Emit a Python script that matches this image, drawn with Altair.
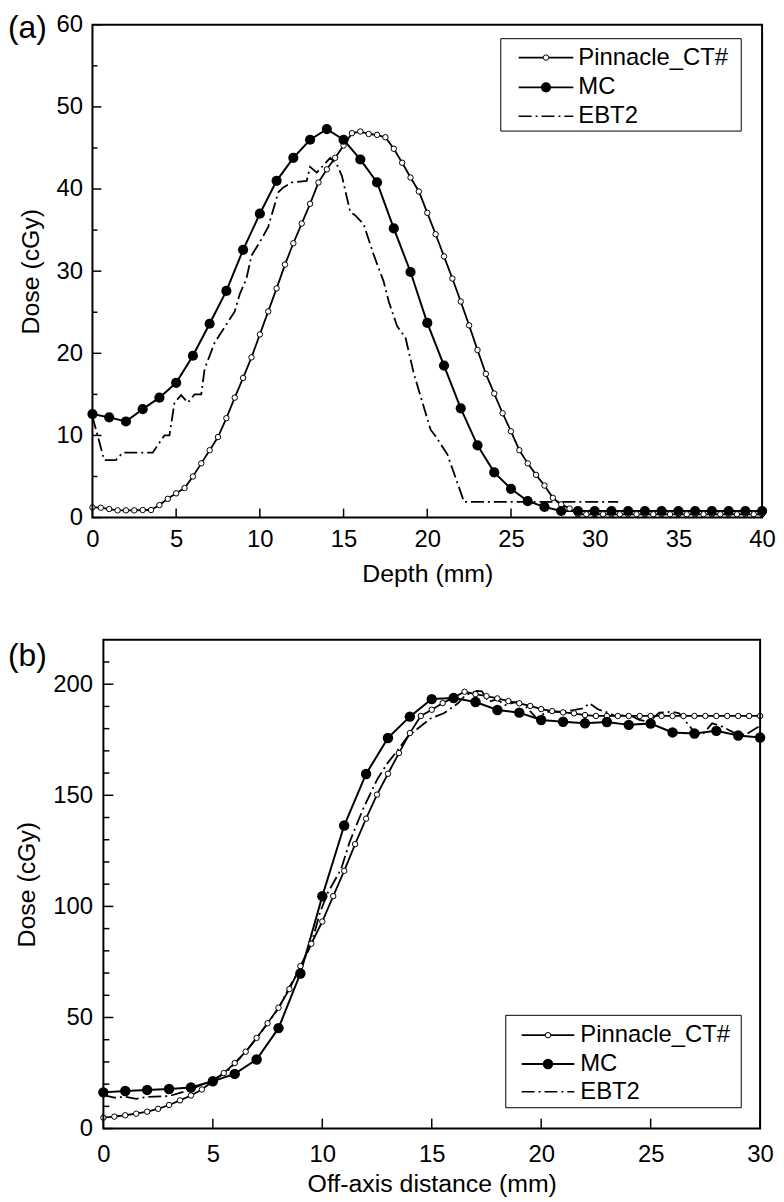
import altair as alt
import pandas as pd

FONT = "Liberation Sans"
SERIES = ["Pinnacle_CT#", "MC", "EBT2"]

# ---------------- panel (a): depth dose ----------------
A_PIN_X = [i * 0.5 for i in range(81)]
A_PIN_Y = [1.24, 1.2, 1.04, 0.88, 0.88, 0.88, 0.92, 0.92, 1.52, 2.28,
           2.95, 3.6, 5.0, 6.6, 8.2, 9.8, 12.1, 14.6, 17.0, 19.5,
           22.3, 25.1, 27.9, 30.8, 33.4, 35.8, 38.2, 40.8, 42.4, 43.8,
           45.3, 46.8, 47.0, 46.7, 46.6, 46.3, 44.9, 43.2, 41.4, 39.7,
           37.1, 34.5, 31.8, 29.1, 26.3, 23.4, 20.4, 17.5, 15.1, 12.7,
           10.5, 8.2, 6.6, 5.2, 3.9, 2.4, 1.6, 1.1, 0.4, 0.4,
           0.4, 0.4, 0.4, 0.4, 0.4, 0.4, 0.4, 0.4, 0.4, 0.4,
           0.4, 0.4, 0.4, 0.4, 0.4, 0.4, 0.4, 0.4, 0.4, 0.4, 0.4]
A_MC_X = list(range(41))
A_MC_Y = [12.6, 12.2, 11.7, 13.2, 14.6, 16.4, 19.7, 23.6, 27.6, 32.6,
          37.0, 41.0, 43.8, 46.0, 47.3, 46.0, 43.6, 40.8, 35.2, 29.9,
          23.7, 18.5, 13.3, 8.8, 5.5, 3.5, 2.0, 1.3, 0.8, 0.8,
          0.8, 0.8, 0.8, 0.8, 0.8, 0.8, 0.8, 0.8, 0.8, 0.8, 0.8]
A_EBT_X = [0, 0.7, 1.4, 1.8, 3.6, 4.3, 4.6, 4.9, 5.3, 5.7, 6.1, 6.5, 6.7, 7.3,
           8.5, 8.8, 9.2, 9.5, 10.1, 10.5, 11.1, 11.4, 11.9, 12.8, 13.0, 13.4,
           14.2, 14.6, 14.9, 15.4, 15.7, 16.2, 16.8, 17.4, 17.7, 18.2, 18.7,
           19.2, 20.2, 20.5, 21.2, 22.2, 31.4]
A_EBT_Y = [12.3, 7.0, 7.0, 7.9, 7.9, 10.0, 10.0, 14.0, 14.9, 14.0, 15.0, 15.0,
           18.1, 21.3, 25.1, 27.2, 29.1, 31.9, 33.9, 35.4, 39.6, 40.2, 40.8,
           41.0, 42.7, 42.0, 43.8, 43.0, 41.6, 37.2, 36.8, 35.7, 32.0, 28.7,
           26.3, 23.3, 21.9, 17.5, 10.7, 9.9, 7.7, 1.9, 1.9]

A_X_TICKS = [0, 5, 10, 15, 20, 25, 30, 35, 40]
A_Y_TICKS = [0, 10, 20, 30, 40, 50, 60]
A_Y_MINOR = [5, 15, 25, 35, 45, 55]

# ---------------- panel (b): off-axis profile ----------------
B_PIN_X = [i * 0.5 for i in range(61)]
B_PIN_Y = [4.9, 5.4, 6.0, 6.7, 7.6, 8.9, 10.6, 12.7, 14.9, 17.6,
           21.3, 25.0, 29.5, 34.6, 40.8, 47.4, 54.4, 62.8, 73.1, 83.2,
           93.2, 104.6, 116.0, 128.0, 139.5, 150.3, 159.7, 169.0, 178.0, 185.7,
           188.5, 191.5, 194.0, 196.6, 195.5, 194.6, 193.6, 192.4, 191.4, 190.2,
           188.8, 187.9, 187.3, 186.9, 186.1, 185.7, 185.7, 185.7, 185.7, 185.7,
           185.7, 185.7, 185.7, 185.7, 185.7, 185.7, 185.7, 185.7, 185.7, 185.7, 185.7]
B_MC_X = list(range(31))
B_MC_Y = [16.3, 16.9, 17.4, 17.8, 18.5, 21.3, 24.6, 31.1, 45.2, 69.8,
          104.6, 136.4, 159.6, 175.8, 185.4, 193.3, 193.8, 192.0, 188.4, 187.2,
          183.9, 183.1, 182.4, 183.0, 181.7, 182.3, 178.3, 177.8, 179.0, 176.9, 176.0]
B_EBT_X = [0, 0.5, 1, 1.5, 2, 3, 3.5, 4, 5, 5.6, 6.5, 7, 8, 8.5, 9, 9.5, 9.9,
           10.26, 10.86, 11.24, 11.85, 12.5, 12.98, 13.4, 13.9, 14.95, 15.55,
           16.2, 16.54, 17.07, 17.29, 17.6, 17.98, 18.35, 18.88, 19.34, 19.79,
           20.25, 21.0, 21.53, 21.91, 22.21, 22.59, 23.12, 23.42, 23.95, 24.48,
           24.93, 25.39, 26.0, 26.3, 26.98, 27.36, 27.81, 28.27, 28.87, 29.32, 29.93]
B_EBT_Y = [15.1, 13.9, 14.3, 13.4, 14.3, 14.6, 16.1, 17.5, 22.1, 25.1, 34.5,
           40.7, 54.0, 63.8, 72.0, 83.2, 97.4, 106.3, 116.8, 128.7, 143.6, 157.0,
           164.5, 169.7, 176.4, 184.6, 186.9, 191.4, 195.1, 197.0, 196.8, 192.1,
           193.2, 190.6, 192.1, 189.6, 184.6, 187.6, 187.6, 188.4, 189.1, 191.4,
           188.7, 186.9, 185.4, 186.6, 183.9, 183.1, 187.2, 187.6, 186.9, 178.7,
           177.2, 182.4, 180.9, 177.9, 177.2, 180.9]

B_X_TICKS = [0, 5, 10, 15, 20, 25, 30]
B_Y_TICKS = [0, 50, 100, 150, 200]
B_Y_MINOR = [10, 20, 30, 40, 60, 70, 80, 90, 110, 120, 130, 140, 160, 170, 180, 190, 210]

DASHDOT = [13, 4, 2, 4]
TICK_FS = 24
TITLE_FS = 25
LEG_FS = 24
TAG_FS = 32


def panel(tag, pin, mc, ebt, xdom, ydom, xt, yt, ymin, xtitle, W, H, cfg):
    x0 = cfg["x0"]  # left edge of the plotting frame inside the group
    xs = alt.Scale(domain=xdom, nice=False, zero=False, range=[x0, W])
    ys = alt.Scale(domain=ydom, nice=False, zero=False)
    xaxis = alt.Axis(values=xt, ticks=False, tickSize=0, domain=False, grid=False,
                     labelFont=FONT, labelFontSize=TICK_FS, labelColor="black",
                     labelPadding=cfg["xlp"], title=xtitle, titleFont=FONT,
                     titleFontSize=TITLE_FS, titleFontWeight="normal", titleColor="black",
                     titlePadding=cfg["xtp"], labelFlush=False, labelOverlap=False)
    yaxis = alt.Axis(values=yt, ticks=False, tickSize=0, domain=False, grid=False,
                     labelFont=FONT, labelFontSize=TICK_FS, labelColor="black",
                     labelPadding=cfg["ylp"], title="Dose (cGy)", titleFont=FONT,
                     titleFontSize=TITLE_FS, titleFontWeight="normal", titleColor="black",
                     titlePadding=cfg["ytp"], labelFlush=False, labelOverlap=False,
                     offset=-x0)

    dpin = pd.DataFrame({"x": pin[0], "y": pin[1]})
    dmc = pd.DataFrame({"x": mc[0], "y": mc[1]})
    debt = pd.DataFrame({"x": ebt[0], "y": ebt[1]})

    X = lambda f="x": alt.X(f + ":Q", scale=xs, axis=xaxis)
    Y = lambda f="y": alt.Y(f + ":Q", scale=ys, axis=yaxis)

    layers = []
    layers.append(alt.Chart(dpin).mark_line(color="black", strokeWidth=1.8).encode(x=X(), y=Y()))
    layers.append(alt.Chart(debt).mark_line(color="black", strokeWidth=1.8,
                                            strokeDash=DASHDOT).encode(x=X(), y=Y()))
    layers.append(alt.Chart(dmc).mark_line(color="black", strokeWidth=2).encode(x=X(), y=Y()))
    layers.append(alt.Chart(dpin).mark_point(shape="circle", filled=True, fill="white",
                                             stroke="black", strokeWidth=1, size=30,
                                             opacity=1).encode(x=X(), y=Y()))
    layers.append(alt.Chart(dmc).mark_point(shape="circle", filled=True, fill="black",
                                            size=cfg["mcsize"], opacity=1).encode(x=X(), y=Y()))

    # inward ticks
    layers.append(alt.Chart(pd.DataFrame({"v": yt})).mark_rule(color="black", strokeWidth=1.5).encode(
        y=Y("v"), x=alt.value(x0), x2=alt.value(x0 + cfg["maj"])))
    layers.append(alt.Chart(pd.DataFrame({"v": ymin})).mark_rule(color="black", strokeWidth=1.5).encode(
        y=Y("v"), x=alt.value(x0), x2=alt.value(x0 + cfg["min"])))
    layers.append(alt.Chart(pd.DataFrame({"v": xt})).mark_rule(color="black", strokeWidth=1.5).encode(
        x=X("v"), y=alt.value(H), y2=alt.value(H - cfg["maj"])))

    one = lambda s: pd.DataFrame({"label": [s]})

    # plot frame
    layers.append(alt.Chart(one("frame")).mark_rect(fillOpacity=0, stroke="black", strokeWidth=2).encode(
        x=alt.value(x0), x2=alt.value(W), y=alt.value(0), y2=alt.value(H)))

    # legend
    lx0, lx1, ly0, ly1 = cfg["box"]
    sx0, sx1, tx = cfg["sample"]
    rows = cfg["rows"]
    layers.append(alt.Chart(one("box")).mark_rect(fill="white", stroke="black", strokeWidth=1).encode(
        x=alt.value(lx0), x2=alt.value(lx1), y=alt.value(ly0), y2=alt.value(ly1)))
    for name, ry in zip(SERIES, rows):
        if name == "EBT2":
            ln = alt.Chart(one(name)).mark_rule(color="black", strokeWidth=1.6, strokeDash=DASHDOT)
        else:
            ln = alt.Chart(one(name)).mark_rule(color="black", strokeWidth=1.8)
        layers.append(ln.encode(x=alt.value(sx0), x2=alt.value(sx1), y=alt.value(ry)))
        if name == "Pinnacle_CT#":
            layers.append(alt.Chart(one(name)).mark_point(shape="circle", filled=True, fill="white",
                                                          stroke="black", strokeWidth=1, size=30,
                                                          opacity=1).encode(
                x=alt.value((sx0 + sx1) / 2), y=alt.value(ry)))
        if name == "MC":
            layers.append(alt.Chart(one(name)).mark_point(shape="circle", filled=True, fill="black",
                                                          size=cfg["mcsize"], opacity=1).encode(
                x=alt.value((sx0 + sx1) / 2), y=alt.value(ry)))
        layers.append(alt.Chart(one(name)).mark_text(align="left", baseline="middle", font=FONT,
                                                     fontSize=LEG_FS, color="black").encode(
            x=alt.value(tx), y=alt.value(ry), text="label:N"))

    # panel tag
    layers.append(alt.Chart(one(tag)).mark_text(align="left", baseline="middle", font=FONT,
                                                fontSize=TAG_FS, color="black").encode(
        x=alt.value(cfg["tagx"]), y=alt.value(cfg["tagy"]), text="label:N"))

    return alt.layer(*layers).properties(width=W, height=H)


# panel (a): frame from page x 93 to 767
pa = panel("(a)", (A_PIN_X, A_PIN_Y), (A_MC_X, A_MC_Y), (A_EBT_X, A_EBT_Y),
           [0, 40], [0, 60], A_X_TICKS, A_Y_TICKS, A_Y_MINOR, "Depth (mm)", 674, 496,
           dict(x0=0, xlp=10, xtp=10, ylp=10, ytp=13, maj=9, min=5, mcsize=105,
                box=(411, 653, 14, 107), sample=(429, 484, 489), rows=(33, 63, 92),
                tagx=-85, tagy=3))
# panel (b): group starts at page x 93, frame from 104 to 765
pb = panel("(b)", (B_PIN_X, B_PIN_Y), (B_MC_X, B_MC_Y), (B_EBT_X, B_EBT_Y),
           [0, 30], [0, 220], B_X_TICKS, B_Y_TICKS, B_Y_MINOR, "Off-axis distance (mm)", 672, 492,
           dict(x0=11, xlp=14, xtp=5, ylp=11, ytp=13, maj=10, min=6, mcsize=110,
                box=(416, 653, 378, 471), sample=(432, 485, 491), rows=(398, 427, 455),
                tagx=-85, tagy=16))

chart = alt.concat(pa, pb, columns=1, spacing=53).properties(
    padding={"left": 0, "top": 0, "right": 0, "bottom": 0}
).configure(background="white").configure_view(stroke="transparent", strokeWidth=0)

chart.save("out.html", embed_options={"renderer": "svg", "actions": False})
